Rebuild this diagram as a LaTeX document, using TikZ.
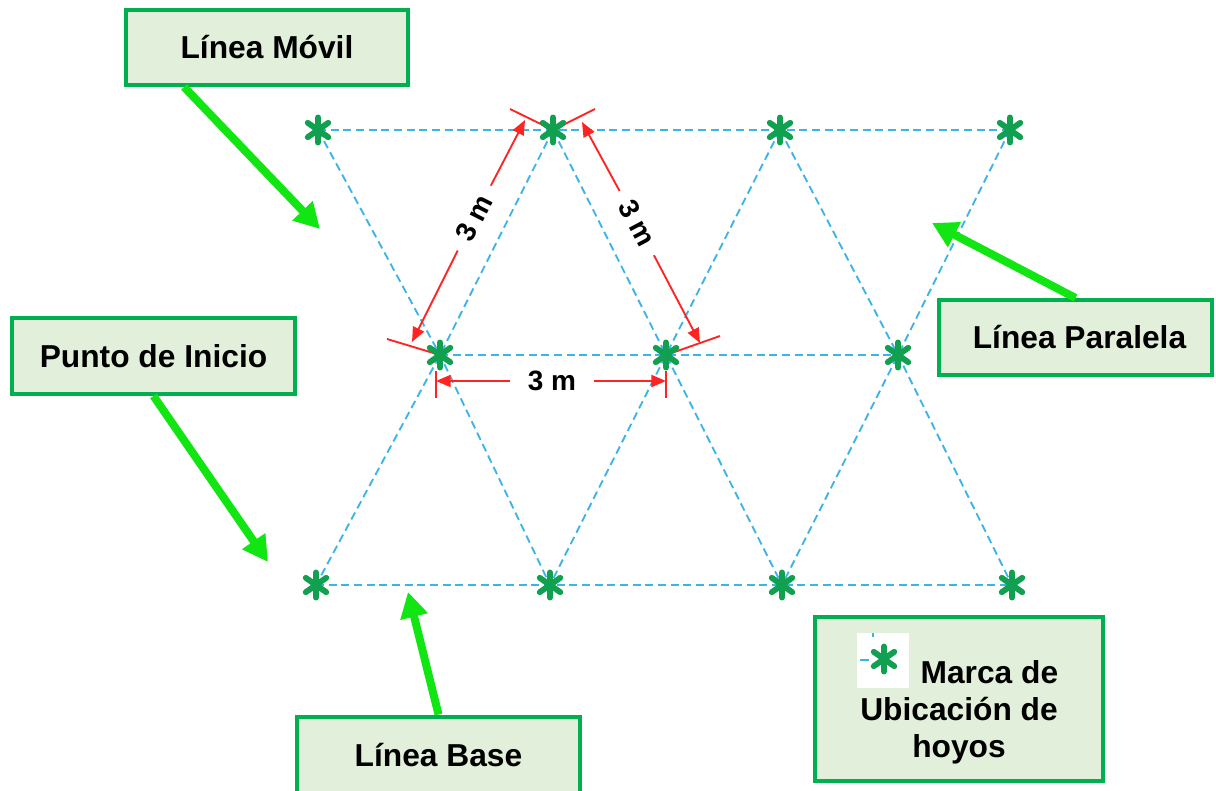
\documentclass[tikz,border=0pt]{standalone}
\usepackage{fontspec}
\setmainfont{Liberation Sans}
\usetikzlibrary{arrows.meta,calc}
\definecolor{boxgreen}{HTML}{00B050}
\definecolor{boxfill}{HTML}{E2EFDA}
\definecolor{arrowgreen}{HTML}{12E612}
\definecolor{holegreen}{HTML}{10A050}
\definecolor{dashblue}{HTML}{3CB4E8}
\definecolor{dimred}{HTML}{FF2424}
\tikzset{
  labelbox/.style={draw=boxgreen, line width=3pt, fill=boxfill, inner sep=0pt,
    font=\fontsize{23.8pt}{27.75pt}\selectfont\bfseries},
  garrow/.style={arrowgreen, line width=6pt, -{Triangle[length=19pt,width=20pt]}},
  dashline/.style={dashblue, line width=1.4pt, dash pattern=on 6pt off 3.5pt},
  dimline/.style={dimred, line width=1.4pt},
  dimarrow/.style={dimred, line width=1.4pt, -{Triangle[length=11pt,width=9pt]}},
  dimlabel/.style={inner xsep=9pt, inner ysep=1pt,
    font=\fontsize{21pt}{24pt}\selectfont\bfseries},
  pics/hole/.style={code={
    \foreach \a in {35,90,145}
      \draw[holegreen, line width=4.4pt, line cap=round] (\a:9.4pt) -- (180+\a:9.4pt);
  }}
}
\begin{document}
\begin{tikzpicture}[x=0.75pt,y=-0.75pt]
\useasboundingbox (0,0) rectangle (1216,791);
\fill[white] (0,0) rectangle (1216,791);
\clip (0,0) rectangle (1216,791);

% grid points
\coordinate (T1) at (318,130);
\coordinate (T2) at (553,130);
\coordinate (T3) at (780,130);
\coordinate (T4) at (1010,130);
\coordinate (M1) at (440,355);
\coordinate (M2) at (666,355);
\coordinate (M3) at (898,355);
\coordinate (B1) at (316,585);
\coordinate (B2) at (550,585);
\coordinate (B3) at (782,585);
\coordinate (B4) at (1012,585);

% dashed layout lines
\draw[dashline] (T1) -- (T2) -- (T3) -- (T4);
\draw[dashline] (M1) -- (M2) -- (M3);
\draw[dashline] (B1) -- (B2) -- (B3) -- (B4);
\draw[dashline] (T1) -- (M1) -- (B2);
\draw[dashline] (T2) -- (M1) -- (B1);
\draw[dashline] (T2) -- (M2) -- (B3);
\draw[dashline] (T3) -- (M2) -- (B2);
\draw[dashline] (T3) -- (M3) -- (B4);
\draw[dashline] (T4) -- (M3) -- (B3);

% dimension extension lines
\coordinate (E1) at (387,339);
\coordinate (E2) at (510,109);
\coordinate (E3) at (595,109);
\coordinate (E4) at (720,336);
\coordinate (V1a) at (436,371);
\coordinate (V1b) at (436,398);
\coordinate (V2a) at (666,371);
\coordinate (V2b) at (666,398);
\draw[dimline] (M1) -- (E1);
\draw[dimline] (T2) -- (E2);
\draw[dimline] (T2) -- (E3);
\draw[dimline] (M2) -- (E4);
\draw[dimline] (V1a) -- (V1b);
\draw[dimline] (V2a) -- (V2b);

% dimension arrows
\coordinate (LdA) at (412,342);
\coordinate (LdB) at (525,120);
\coordinate (RdA) at (582,122);
\coordinate (RdB) at (700,343);
\coordinate (HdA) at (436,381);
\coordinate (HdB) at (666,381);
\node[dimlabel, rotate=63] (Ll) at (474,218) {3 m};
\node[dimlabel, rotate=-62] (Rl) at (637,223) {3 m};
\node[dimlabel, inner xsep=13pt] (Hl) at (552,381) {3 m};
\draw[dimarrow] (Ll) -- (LdA);
\draw[dimarrow] (Ll) -- (LdB);
\draw[dimarrow] (Rl) -- (RdA);
\draw[dimarrow] (Rl) -- (RdB);
\draw[dimarrow] (Hl) -- (HdA);
\draw[dimarrow] (Hl) -- (HdB);

% hole marks
\foreach \p in {T1,T2,T3,T4,M1,M2,M3,B1,B2,B3,B4}
  \pic at (\p) {hole};

% label boxes
\node[labelbox, minimum width=211.5pt, minimum height=56.25pt] (movil) at (267,47.5) {Línea Móvil};
\node[labelbox, minimum width=212.25pt, minimum height=57pt] (punto) at (153.5,356) {Punto de Inicio};
\node[labelbox, minimum width=204.75pt, minimum height=56.25pt] (paralela) at (1075.5,337.5) {\hspace*{6pt}Línea Paralela};
\node[labelbox, minimum width=212.25pt, minimum height=57.75pt] (base) at (438.5,755) {Línea Base};
\node[labelbox, minimum width=216pt, minimum height=123pt, align=center] (marca) at (959,699)
  {\rule[-3.75pt]{0pt}{41.25pt}\hspace*{39pt} Marca de\\Ubicación de\\hoyos};

% legend icon
\coordinate (icoA) at (857,633);
\coordinate (icoB) at (909,688);
\coordinate (ico) at (884,659);
\fill[white] (icoA) rectangle (icoB);
\coordinate (icd1) at (860,660);
\coordinate (icd2) at (869,660);
\coordinate (icd3) at (873,633);
\coordinate (icd4) at (873,637);
\draw[dashblue, line width=1.4pt] (icd1) -- (icd2);
\draw[dashblue, line width=1.4pt] (icd3) -- (icd4);
\pic at (ico) {hole};

% green pointer arrows
\coordinate (tipMovil) at (320,229);
\coordinate (tipPunto) at (268,562);
\coordinate (tipParalela) at (932,223);
\coordinate (tipBase) at (408,592);
\draw[garrow] ($(movil.south west)!0.21!(movil.south east)$) -- (tipMovil);
\draw[garrow] (punto.south) -- (tipPunto);
\draw[garrow] (paralela.north) -- (tipParalela);
\draw[garrow] (base.north) -- (tipBase);
\end{tikzpicture}
\end{document}
